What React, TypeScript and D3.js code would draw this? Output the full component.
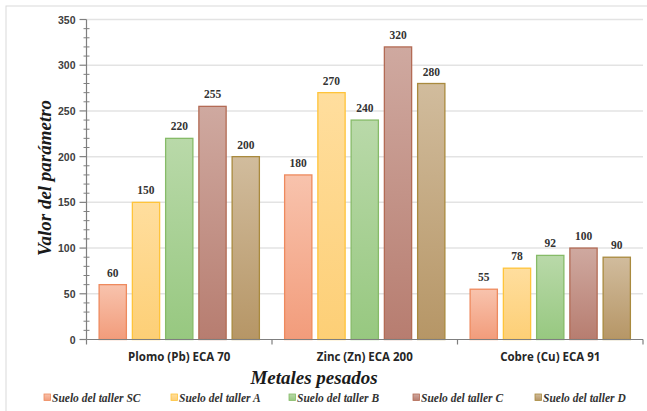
import React from "react";
import * as d3 from "d3";

const categories = ["Plomo (Pb) ECA 70", "Zinc (Zn) ECA 200", "Cobre (Cu) ECA 91"];
const seriesNames = [
  "Suelo del taller SC",
  "Suelo del taller A",
  "Suelo del taller B",
  "Suelo del taller C",
  "Suelo del taller D",
];
const tallerSC = [60, 180, 55];
const tallerA = [150, 270, 78];
const tallerB = [220, 240, 92];
const tallerC = [255, 320, 100];
const tallerD = [200, 280, 90];
const yTicks = [0, 50, 100, 150, 200, 250, 300, 350];

const seriesValues = [tallerSC, tallerA, tallerB, tallerC, tallerD];

// top colour, bottom colour, outline
const palette = [
  ["#F8C3AD", "#F29C7B", "#EE8A5E"],
  ["#FFDE9E", "#FDCF76", "#FFC43A"],
  ["#B9D9A9", "#97C880", "#86BB68"],
  ["#CFA9A0", "#B77D70", "#B36B55"],
  ["#D1BC9D", "#B69666", "#A98A3E"],
];

const W = 647;
const H = 411;
const left = 86.5;
const right = 643;
const top = 19.5;
const bottom = 339.5;

export default function App() {
  const x0 = d3
    .scaleBand<string>()
    .domain(categories)
    .range([left, right])
    .paddingInner(0.136)
    .paddingOuter(0.068);
  const x1 = d3
    .scaleBand<number>()
    .domain(d3.range(seriesNames.length))
    .range([0, x0.bandwidth()])
    .paddingInner(0.18);
  const y = d3.scaleLinear().domain([0, 350]).range([bottom, top]);
  const minorTicks = d3.range(0, 351, 10).filter((v) => v % 50 !== 0);
  const step = (right - left) / categories.length;
  const dividers = d3.range(categories.length + 1).map((i) => left + i * step);

  const legendX = [44, 171, 289, 413, 535];

  return (
    <svg
      width={W}
      height={H}
      style={{ position: "absolute", left: 0, top: 0, background: "#fff" }}
    >
      <defs>
        {palette.map((p, i) => (
          <linearGradient key={i} id={`g${i}`} x1="0" y1="0" x2="0" y2="1">
            <stop offset="0" stopColor={p[0]} />
            <stop offset="1" stopColor={p[1]} />
          </linearGradient>
        ))}
      </defs>
      <rect x={6} y={6} width={W} height={H} fill="none" stroke="#D9D9D9" strokeWidth={1} />

      {yTicks.slice(1).map((t) => (
        <line key={t} x1={left} x2={right} y1={y(t)} y2={y(t)} stroke="#E3E3E3" strokeWidth={1.5} />
      ))}

      {seriesValues.map((vals, si) =>
        vals.map((v, ci) => {
          const bx = (x0(categories[ci]) as number) + (x1(si) as number);
          return (
            <g key={`${si}-${ci}`}>
              <rect
                x={bx}
                y={y(v)}
                width={x1.bandwidth()}
                height={bottom - y(v)}
                fill={`url(#g${si})`}
                stroke={palette[si][2]}
                strokeWidth={1.3}
              />
              <text
                x={bx + x1.bandwidth() / 2}
                y={y(v) - 8}
                textAnchor="middle"
                fontFamily="Liberation Serif"
                fontWeight="bold"
                fontSize={11.5}
                fill="#333"
              >
                {v}
              </text>
            </g>
          );
        })
      )}

      {/* y axis */}
      <line x1={left} x2={left} y1={top} y2={bottom} stroke="#7F7F7F" strokeWidth={1.2} />
      {yTicks.map((t) => (
        <g key={t}>
          <line x1={left - 7} x2={left} y1={y(t)} y2={y(t)} stroke="#7F7F7F" strokeWidth={1.2} />
          <text
            x={left - 11}
            y={y(t) + 4}
            textAnchor="end"
            fontFamily="Liberation Sans"
            fontWeight="bold"
            fontSize={10.5}
            fill="#404040"
          >
            {t}
          </text>
        </g>
      ))}
      {minorTicks.map((t) => (
        <line key={t} x1={left - 3} x2={left + 3} y1={y(t)} y2={y(t)} stroke="#7F7F7F" strokeWidth={1} />
      ))}

      {/* x axis */}
      <line x1={left} x2={right} y1={bottom} y2={bottom} stroke="#7F7F7F" strokeWidth={1.2} />
      {dividers.map((d, i) => (
        <line key={i} x1={d} x2={d} y1={bottom} y2={bottom + 5} stroke="#7F7F7F" strokeWidth={1.2} />
      ))}
      {categories.map((c) => (
        <text
          key={c}
          x={(x0(c) as number) + x0.bandwidth() / 2}
          y={360.5}
          textAnchor="middle"
          fontFamily="Open Sans"
          fontWeight="bold"
          fontSize={11.5}
          fill="#262626"
        >
          {c}
        </text>
      ))}

      <text
        x={314}
        y={384}
        textAnchor="middle"
        fontFamily="Liberation Serif"
        fontWeight="bold"
        fontStyle="italic"
        fontSize={19}
        fill="#1a1a1a"
      >
        Metales pesados
      </text>
      <text
        transform={`translate(51,178) rotate(-90)`}
        textAnchor="middle"
        fontFamily="Liberation Serif"
        fontWeight="bold"
        fontStyle="italic"
        fontSize={19}
        fill="#1a1a1a"
      >
        Valor del parámetro
      </text>

      {seriesNames.map((n, i) => (
        <g key={n}>
          <rect
            x={legendX[i]}
            y={394}
            width={6.5}
            height={6.5}
            fill={`url(#g${i})`}
            stroke={palette[i][2]}
            strokeWidth={0.8}
          />
          <text
            x={legendX[i] + 8}
            y={401.5}
            fontFamily="Liberation Serif"
            fontWeight="bold"
            fontStyle="italic"
            fontSize={11.5}
            fill="#333"
          >
            {n}
          </text>
        </g>
      ))}
    </svg>
  );
}
